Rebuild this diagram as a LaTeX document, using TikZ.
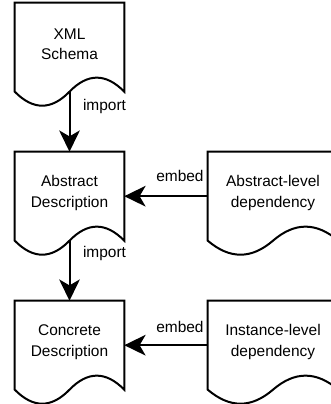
\documentclass[tikz,border=0pt]{standalone}
\usepackage{fontspec}
\setmainfont{Liberation Sans}
\usetikzlibrary{arrows.meta,calc}
\tikzset{
  doctext/.style={align=center, inner sep=0pt, yshift=2.3pt,
    font=\fontsize{11.6}{15.4}\selectfont},
  doc/.style={draw=none, minimum height=66.3pt, inner sep=0pt},
  leftdoc/.style={doc, minimum width=81.75pt},
  rightdoc/.style={doc, minimum width=97.5pt},
  outline/.style={line width=1.5pt, line join=miter},
  arr/.style={line width=1.5pt, -{Stealth[length=16pt,width=15.5pt,inset=4.5pt]}},
  lbl/.style={inner sep=0pt, font=\fontsize{11.6}{14}\selectfont},
}
\newcommand\docwave[3]{%
  \draw[outline] (#1.south west) -- (#1.north west) -- (#1.north east) -- (#1.south east)
    .. controls ($(#1.south)+(#2,-18.7)$) and ($(#1.south)+(#3,-18.7)$) .. (#1.south)
    .. controls ($(#1.south)+(-#3,18.7)$) and ($(#1.south)+(-#2,18.7)$) .. (#1.south west) -- cycle;}
\begin{document}
\begin{tikzpicture}[x=0.75pt,y=-0.75pt]
\useasboundingbox (0,0) rectangle (331,404);
\clip (0,0) rectangle (331,404);
\node[leftdoc, label={[doctext]center:{XML\\Schema}}] (xml) at (69.5,47.2) {};
\node[leftdoc, label={[doctext]center:{Abstract\\Description}}] (abs) at (69.5,196.2) {};
\node[leftdoc, label={[doctext]center:{Concrete\\Description}}] (con) at (69.5,345.2) {};
\node[rightdoc, label={[doctext]center:{Abstract-level\\dependency}}] (ald) at (273,196.2) {};
\node[rightdoc, label={[doctext]center:{Instance-level\\dependency}}] (ild) at (273,345.2) {};
\docwave{xml}{36.33}{18.17}
\docwave{abs}{36.33}{18.17}
\docwave{con}{36.33}{18.17}
\docwave{ald}{43.33}{21.67}
\docwave{ild}{43.33}{21.67}
\draw[arr] (xml.south) -- node[lbl, pos=0.25, anchor=west, xshift=9.4pt]{import} (abs.north);
\draw[arr] (abs.south) -- node[lbl, pos=0.21, anchor=west, xshift=9.4pt]{import} (con.north);
\draw[arr] (ald.west) -- node[lbl, pos=0.333, anchor=base, yshift=11.25pt]{embed} (abs.east);
\draw[arr] (ild.west) -- node[lbl, pos=0.333, anchor=base, yshift=9.75pt]{embed} (con.east);
\end{tikzpicture}
\end{document}
